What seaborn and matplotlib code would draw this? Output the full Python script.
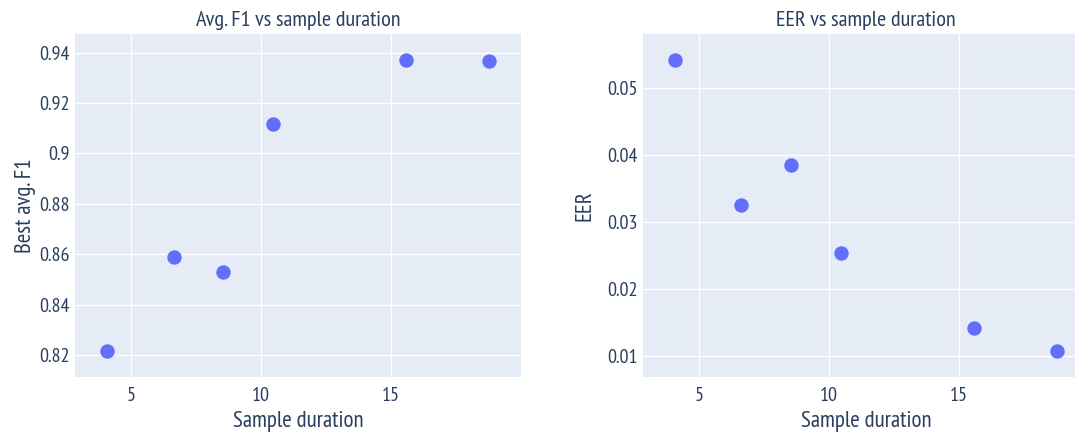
import matplotlib
matplotlib.use("Agg")
import matplotlib.pyplot as plt
from matplotlib.ticker import FuncFormatter
import seaborn as sns
import pandas as pd

# Sample duration for each run
durations = [4.07, 6.63, 8.55, 10.45, 15.58, 18.77]
# Best average F1 per run
best_f1 = [0.8217, 0.8587, 0.8529, 0.9117, 0.9370, 0.9367]
# Equal error rate per run
eer = [0.0542, 0.0325, 0.0386, 0.0254, 0.0142, 0.0108]

f1_ticks = [0.82, 0.84, 0.86, 0.88, 0.90, 0.92, 0.94]
eer_ticks = [0.01, 0.02, 0.03, 0.04, 0.05]
x_ticks = [5, 10, 15]

df = pd.DataFrame({"duration": durations, "f1": best_f1, "eer": eer})

sns.set_theme(style="darkgrid")
plt.rcParams["font.family"] = ["PT Sans Narrow", "Roboto Condensed", "DejaVu Sans"]

TEXT = "#2a3f5f"
BG = "#E5ECF6"
MARK = "#636EFA"

fig = plt.figure(figsize=(10.75, 4.36), dpi=100)
ax1 = fig.add_axes([0.0700, 0.1346, 0.4147, 0.7874])
ax2 = fig.add_axes([0.5981, 0.1346, 0.4147, 0.7874])

panels = [
    (ax1, "f1", "Best avg. F1", "Avg. F1 vs sample duration", f1_ticks, (0.8111, 0.9474), 2),
    (ax2, "eer", "EER", "EER vs sample duration", eer_ticks, (0.00682, 0.05812), 8),
]

fmt = FuncFormatter(lambda v, _: f"{v:g}")

for ax, col, ylab, title, yt, ylim, ypad in panels:
    ax.set_facecolor(BG)
    sns.scatterplot(data=df, x="duration", y=col, ax=ax, color=MARK, s=108,
                    linewidth=0, zorder=3)
    ax.set_xlim(2.85, 20.0)
    ax.set_ylim(*ylim)
    ax.set_xticks(x_ticks)
    ax.set_yticks(yt)
    ax.yaxis.set_major_formatter(fmt)
    ax.grid(True, color="white", linewidth=1.0)
    for s in ax.spines.values():
        s.set_visible(False)
    ax.tick_params(axis="both", length=0, labelsize=14.5, labelcolor=TEXT)
    ax.tick_params(axis="x", pad=7)
    ax.tick_params(axis="y", pad=4)
    ax.set_xlabel("Sample duration", fontsize=16.5, color=TEXT, labelpad=4)
    ax.set_ylabel(ylab, fontsize=16.5, color=TEXT, labelpad=ypad)
    ax.set_title(title, fontsize=16, color=TEXT, pad=6)

fig.savefig("out.png", dpi=100, facecolor="white")
